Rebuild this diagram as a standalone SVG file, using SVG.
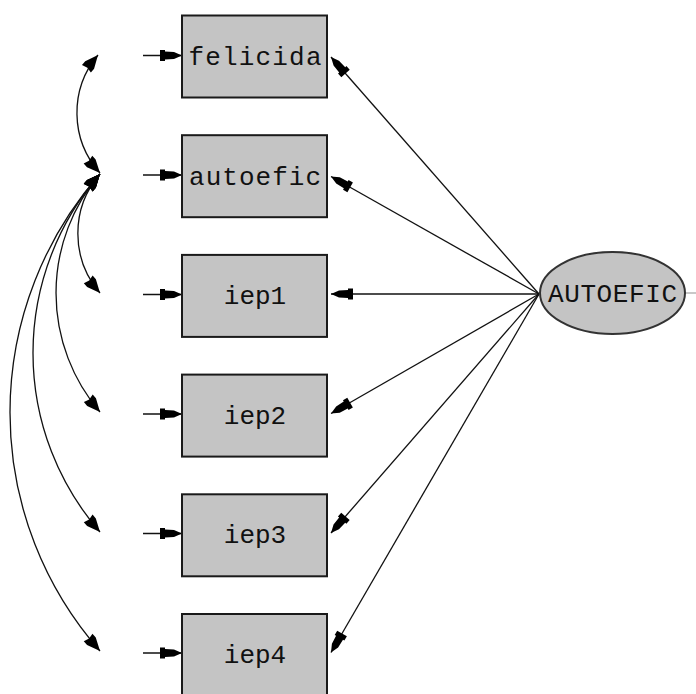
<svg xmlns="http://www.w3.org/2000/svg" width="696" height="694" viewBox="0 0 696 694">
  <style>
    .box { fill: #c4c4c4; stroke: #1a1a1a; stroke-width: 2; }
    .lat { fill: #c4c4c4; stroke: #333; stroke-width: 2; }
    .lbl { font-family: "Liberation Mono", "Courier New", monospace; font-size: 26px; fill: #111; text-anchor: middle; }
    .edge { fill: none; stroke: #111; stroke-width: 1.3; }
  </style>
  <defs>
    <!-- arrowhead: tip at the path end, tapered body with a flared back -->
    <marker id="head" markerUnits="userSpaceOnUse" markerWidth="30" markerHeight="16" viewBox="-24 -8 26 16" refX="0" refY="0" orient="auto-start-reverse" overflow="visible">
      <path d="M0,0 L-8,-3.6 L-17,-4 L-17,-5.6 L-22,-5.6 L-22,5.6 L-17,5.6 L-17,4 L-8,3.6 Z" fill="#000"/>
    </marker>
    <marker id="headc" markerUnits="userSpaceOnUse" markerWidth="24" markerHeight="16" viewBox="-20 -8 22 16" refX="0" refY="0" orient="auto-start-reverse" overflow="visible">
      <path d="M0,0 L-13,-5.8 L-18,-5.8 L-16.5,0 L-18,5.8 L-13,5.8 Z" fill="#000"/>
    </marker>
  </defs>

  <!-- connectors -->
  <g id="connectors">
    <!-- error terms into indicators -->
    <line class="edge" x1="143" y1="55.5" x2="182" y2="55.5" marker-end="url(#head)"/>
    <line class="edge" x1="143" y1="175" x2="182" y2="175" marker-end="url(#head)"/>
    <line class="edge" x1="143" y1="294.5" x2="182" y2="294.5" marker-end="url(#head)"/>
    <line class="edge" x1="143" y1="414" x2="182" y2="414" marker-end="url(#head)"/>
    <line class="edge" x1="143" y1="533.5" x2="182" y2="533.5" marker-end="url(#head)"/>
    <line class="edge" x1="143" y1="653" x2="182" y2="653" marker-end="url(#head)"/>

    <!-- loadings from AUTOEFIC -->
    <line class="edge" x1="539" y1="294" x2="331" y2="57" marker-end="url(#head)"/>
    <line class="edge" x1="539" y1="294" x2="331" y2="176.5" marker-end="url(#head)"/>
    <line class="edge" x1="539" y1="294" x2="331" y2="294" marker-end="url(#head)"/>
    <line class="edge" x1="539" y1="294" x2="331" y2="413.5" marker-end="url(#head)"/>
    <line class="edge" x1="539" y1="294" x2="331" y2="533" marker-end="url(#head)"/>
    <line class="edge" x1="539" y1="294" x2="331" y2="652.5" marker-end="url(#head)"/>
    <line x1="685" y1="293" x2="696" y2="293" stroke="#aaa" stroke-width="1.3"/>

    <!-- error covariances -->
    <path class="edge" d="M98,55 A90,90 0 0 0 100,173" marker-start="url(#headc)" marker-end="url(#headc)"/>
    <path class="edge" d="M100,174 A91,91 0 0 0 100,293" marker-start="url(#headc)" marker-end="url(#headc)"/>
    <path class="edge" d="M100,174 A183,183 0 0 0 100,412" marker-start="url(#headc)" marker-end="url(#headc)"/>
    <path class="edge" d="M100,174 A272.6,272.6 0 0 0 100,532" marker-start="url(#headc)" marker-end="url(#headc)"/>
    <path class="edge" d="M100,174 A361,361 0 0 0 100,651" marker-start="url(#headc)" marker-end="url(#headc)"/>
  </g>

  <!-- observed indicators -->
  <g id="felicida">
    <rect class="box" x="182" y="15.5" width="145" height="82"/>
    <text class="lbl" x="255" y="65" textLength="133" lengthAdjust="spacing">felicida</text>
  </g>
  <g id="autoefic">
    <rect class="box" x="182" y="135.2" width="145" height="82"/>
    <text class="lbl" x="255" y="185" textLength="132" lengthAdjust="spacing">autoefic</text>
  </g>
  <g id="iep1">
    <rect class="box" x="182" y="254.9" width="145" height="82"/>
    <text class="lbl" x="255" y="304">iep1</text>
  </g>
  <g id="iep2">
    <rect class="box" x="182" y="374.6" width="145" height="82"/>
    <text class="lbl" x="255" y="424">iep2</text>
  </g>
  <g id="iep3">
    <rect class="box" x="182" y="494.3" width="145" height="82"/>
    <text class="lbl" x="255" y="543">iep3</text>
  </g>
  <g id="iep4">
    <rect class="box" x="182" y="614" width="145" height="82"/>
    <text class="lbl" x="255" y="663">iep4</text>
  </g>

  <!-- latent factor -->
  <g id="AUTOEFIC">
    <ellipse class="lat" cx="612.5" cy="293" rx="72.5" ry="41"/>
    <text class="lbl" x="612.5" y="302" textLength="129" lengthAdjust="spacing">AUTOEFIC</text>
  </g>
</svg>
